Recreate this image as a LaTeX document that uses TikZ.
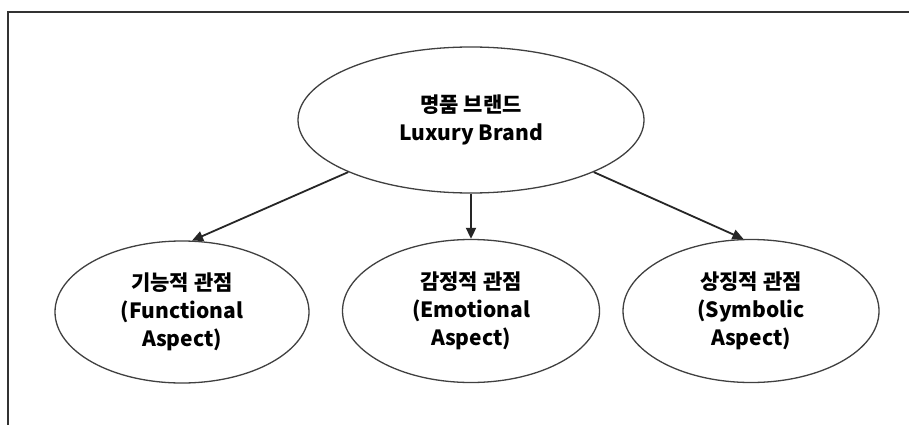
\documentclass[tikz,border=0pt]{standalone}
\usepackage{fontspec}
\setmainfont{Noto Sans CJK KR}
\usetikzlibrary{arrows.meta,shapes.geometric}
\tikzset{
  framel/.style={draw=black!80,line width=2pt},
  oval/.style={ellipse,draw=black!75,line width=1.3pt,inner sep=0pt,align=center,
    font=\fontsize{21}{28}\selectfont\bfseries},
  conn/.style={draw=black!85,line width=1.8pt,-{Triangle[length=11pt,width=10pt]}}
}
\begin{document}
\begin{tikzpicture}[x=1pt,y=-1pt]
\useasboundingbox (0,0) rectangle (909,425);
\fill[white] (0,0) rectangle (909,425);
\draw[framel] (8,425) -- (8,12) -- (909,12);
\node[oval,minimum width=346pt,minimum height=146pt] (T) at (471,120) {명품 브랜드\\Luxury Brand};
\node[oval,minimum width=254pt,minimum height=142pt] (L) at (182,312) {기능적 관점\\(Functional\\Aspect)};
\node[oval,minimum width=257pt,minimum height=143pt] (M) at (471,311) {감정적 관점\\(Emotional\\Aspect)};
\node[oval,minimum width=256pt,minimum height=143pt] (R) at (751,311) {상징적 관점\\(Symbolic\\Aspect)};
\draw[conn] (T.203) -- (L.82);
\draw[conn] (T.south) -- (M.north);
\draw[conn] (T.337) -- (R.96);
\end{tikzpicture}
\end{document}
